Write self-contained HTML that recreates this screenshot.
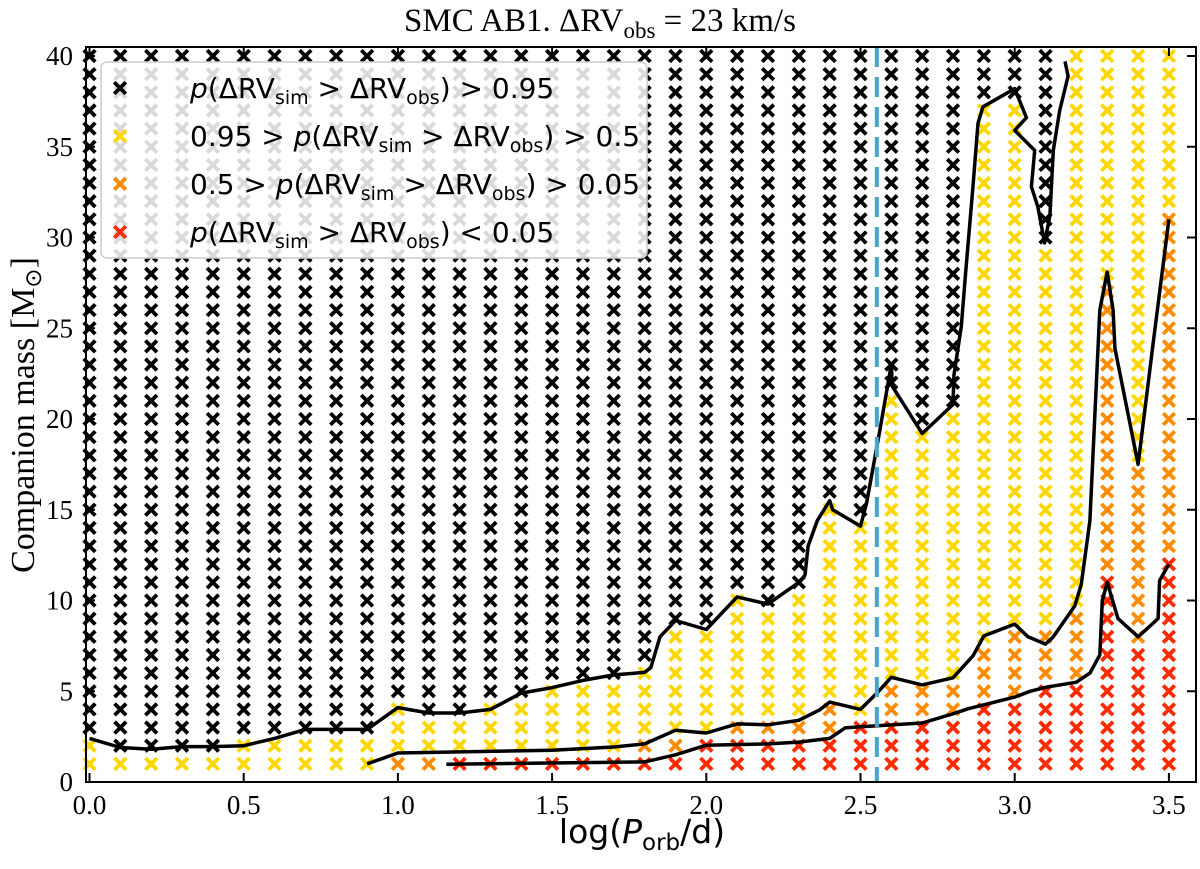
<!DOCTYPE html>
<html><head><meta charset="utf-8"><style>
html,body{margin:0;padding:0;background:#fff;}
svg{display:block;}
</style></head><body>
<svg id="chart" width="1200" height="869" viewBox="0 0 1200 869" xmlns="http://www.w3.org/2000/svg">
<g id="cells"></g>
<g id="contours"></g>
<line id="obsline" stroke="#4aa6c9" stroke-width="4" stroke-dasharray="20,10"/>
<g id="axes"></g>
<g id="legend">
  <rect x="101" y="62" width="546" height="196" rx="6" fill="#fff" fill-opacity="0.85" stroke="#ccc" stroke-width="1.5"/>
</g>
<text x="600" y="31" text-anchor="middle" font-family="Liberation Serif, serif" font-size="33">SMC AB1. ΔRV<tspan font-size="23" dy="7">obs</tspan><tspan dy="-7"> = 23 km/s</tspan></text>
<text transform="translate(34,415) rotate(-90)" text-anchor="middle" font-family="Liberation Serif, serif" font-size="34">Companion mass [M<tspan font-size="23" dy="7">⊙</tspan><tspan dy="-7">]</tspan></text>
<text x="642" y="843" text-anchor="middle" font-family="DejaVu Sans, sans-serif" font-size="33">log(<tspan font-style="italic">P</tspan><tspan font-size="23" dy="7">orb</tspan><tspan dy="-7">/d)</tspan></text>
</svg>
<script>
// ---- data ----
const colX = [0.0,0.1,0.2,0.3,0.4,0.5,0.6,0.7,0.8,0.9,1.0,1.1,1.2,1.3,1.4,1.5,1.6,1.7,1.8,1.9,2.0,2.1,2.2,2.3,2.4,2.5,2.6,2.7,2.8,2.9,3.0,3.1,3.2,3.3,3.4,3.5];
const massRows = [1,2,3,4,5,6,7,8,9,10,11,12,13,14,15,16,17,18,19,20,21,22,23,24,25,26,27,28,29,30,31,32,33,34,35,36,37,38,39,40];
const blackFrom  = [3,2,2,2,2,3,3,3,3,3,5,4,4,5,5,6,6,6,7,9,9,11,10,11,16,15,22,20,21,38,38,30,41,41,41,41];
const yellowFrom = [1,1,1,1,1,1,1,1,1,1,2,2,2,2,2,2,2,2,3,3,3,4,4,4,5,4,6,6,6,8,9,9,10,28,18,32];
const orangeFrom = [1,1,1,1,1,1,1,1,1,1,1,1,2,2,2,2,2,2,2,2,3,3,3,3,3,4,4,4,4,5,5,6,6,12,8,13];
const c95X = [0.0,0.1,0.2,0.3,0.4,0.5,0.6,0.7,0.8,0.9,1.0,1.1,1.2,1.3,1.4,1.5,1.6,1.7,1.8,1.82,1.85,1.9,2.0,2.1,2.2,2.3,2.32,2.33,2.36,2.4,2.41,2.5,2.52,2.562,2.6,2.603,2.7,2.8,2.803,2.827,2.84,2.865,2.881,2.897,3.0,3.038,3.0,3.065,3.054,3.075,3.085,3.097,3.114,3.125,3.146,3.173,3.163];
const c95M = [2.4,1.9,1.8,1.95,1.95,2.0,2.4,2.9,2.9,2.9,4.1,3.8,3.8,4.0,4.9,5.2,5.6,5.9,6.04,6.3,8.0,8.9,8.4,10.2,9.8,11.0,11.4,13.0,14.4,15.5,15.0,14.1,15.4,19.3,23.0,21.8,19.2,20.8,22.4,25.1,27.9,32.9,36.3,37.2,38.2,36.6,35.9,34.8,32.8,31.7,30.8,29.7,31.2,34.8,37.0,38.9,39.7];
const c50X = [0.9,1.0,1.5,1.7,1.8,1.9,2.0,2.1,2.2,2.3,2.368,2.4,2.5,2.556,2.6,2.7,2.8,2.865,2.9,3.0,3.043,3.1,3.125,3.195,3.216,3.244,3.276,3.3,3.319,3.325,3.4,3.449,3.5];
const c50M = [1.0,1.6,1.75,1.93,2.1,2.85,2.7,3.2,3.15,3.4,3.98,4.4,4.0,4.95,5.77,5.35,5.74,6.96,8.05,8.7,8.0,7.6,8.0,9.7,10.9,14.4,26.0,28.1,26.0,23.9,17.5,24.2,31.0];
const c05X = [1.157,1.8,1.9,2.0,2.2,2.3,2.4,2.45,2.5,2.7,2.8,2.85,3.0,3.05,3.1,3.2,3.244,3.276,3.284,3.3,3.335,3.4,3.465,3.47,3.5];
const c05M = [0.98,1.11,1.5,2.03,2.1,2.2,2.4,2.98,3.04,3.25,3.76,4.04,4.68,5.0,5.22,5.5,6.0,7.0,10.0,11.0,9.0,8.0,9.0,11.1,12.0];
const obsLogP = [2.553];
const xTicks = [0.0,0.5,1.0,1.5,2.0,2.5,3.0,3.5];
const xTickLabels = ["0.0","0.5","1.0","1.5","2.0","2.5","3.0","3.5"];
const yTicks = [0,5,10,15,20,25,30,35,40];
const yTickLabels = ["0","5","10","15","20","25","30","35","40"];

// ---- scales ----
const L=86, R=1196, T=47, B=782;
const sx = v => 89.5 + v*308.4;
const sy = v => 782 - v*18.15;
const NS="http://www.w3.org/2000/svg";
function mk(tag, attrs, parent){const e=document.createElementNS(NS,tag);for(const k in attrs)e.setAttribute(k,attrs[k]);parent.appendChild(e);return e;}

const COL={black:"#000000",yellow:"#ffd700",orange:"#ff8c00",red:"#ff2a00"};
function cross(parent, cx, cy, color, s, w){
  return mk('path',{d:`M${cx-s} ${cy-s}L${cx+s} ${cy+s}M${cx-s} ${cy+s}L${cx+s} ${cy-s}`,stroke:color,'stroke-width':w,fill:'none'},parent);
}
const cells=document.getElementById('cells');
colX.forEach((x,i)=>{
  massRows.forEach(m=>{
    let c = m>=blackFrom[i]?'black':(m>=yellowFrom[i]?'yellow':(m>=orangeFrom[i]?'orange':'red'));
    const p=cross(cells, sx(x), sy(m), COL[c], 5.8, 3.8);
    
    
  });
});

const cont=document.getElementById('contours');
[[c95X,c95M,'contour-095'],[c50X,c50M,'contour-050'],[c05X,c05M,'contour-005']].forEach(([xs,ms,n])=>{
  const pts=xs.map((x,i)=>sx(x).toFixed(1)+','+sy(ms[i]).toFixed(1)).join(' ');
  const pl=mk('polyline',{points:pts,fill:'none',stroke:'#000','stroke-width':3.5,'stroke-linejoin':'round'},cont);
  
  
});

const ol=document.getElementById('obsline');
ol.setAttribute('x1',sx(obsLogP[0]));ol.setAttribute('x2',sx(obsLogP[0]));
ol.setAttribute('y1',T);ol.setAttribute('y2',B);

const ax=document.getElementById('axes');
const fr=mk('rect',{x:L,y:T,width:R-L,height:B-T,fill:'none',stroke:'#000','stroke-width':2},ax);


xTicks.forEach((v,i)=>{
  const X=sx(v);
  mk('line',{x1:X,x2:X,y1:B,y2:B-9,stroke:'#000','stroke-width':2},ax);
  mk('line',{x1:X,x2:X,y1:T,y2:T+9,stroke:'#000','stroke-width':2},ax);
  const t=mk('text',{x:X,y:814,'text-anchor':'middle','font-family':'Liberation Serif, serif','font-size':27},ax);
  t.textContent=xTickLabels[i];
  
  
});
yTicks.forEach((v,i)=>{
  const Y=sy(v);
  mk('line',{x1:L,x2:L+9,y1:Y,y2:Y,stroke:'#000','stroke-width':2},ax);
  mk('line',{x1:R,x2:R-9,y1:Y,y2:Y,stroke:'#000','stroke-width':2},ax);
  const t=mk('text',{x:73,y:Y+9,'text-anchor':'end','font-family':'Liberation Serif, serif','font-size':27},ax);
  t.textContent=yTickLabels[i];
  
  
});

// legend
const lg=document.getElementById('legend');
const entries=[
  ['black','','&gt; 0.95'],
  ['yellow','0.95 &gt; ','&gt; 0.5'],
  ['orange','0.5 &gt; ','&gt; 0.05'],
  ['red','','&lt; 0.05']];
entries.forEach((e,i)=>{
  const cy=88+i*48;
  const m=cross(lg,120,cy,COL[e[0]],5.8,3.8);
  
  
  const t=mk('text',{x:190,y:cy+10,'font-family':'DejaVu Sans, sans-serif','font-size':28},lg);
  t.innerHTML=e[1]+'<tspan font-style="italic">p</tspan>(ΔRV<tspan font-size="19" dy="6">sim</tspan><tspan dy="-6"> &gt; ΔRV</tspan><tspan font-size="19" dy="6">obs</tspan><tspan dy="-6">) '+e[2]+'</tspan>';
  
  
});
</script>
</body></html>
